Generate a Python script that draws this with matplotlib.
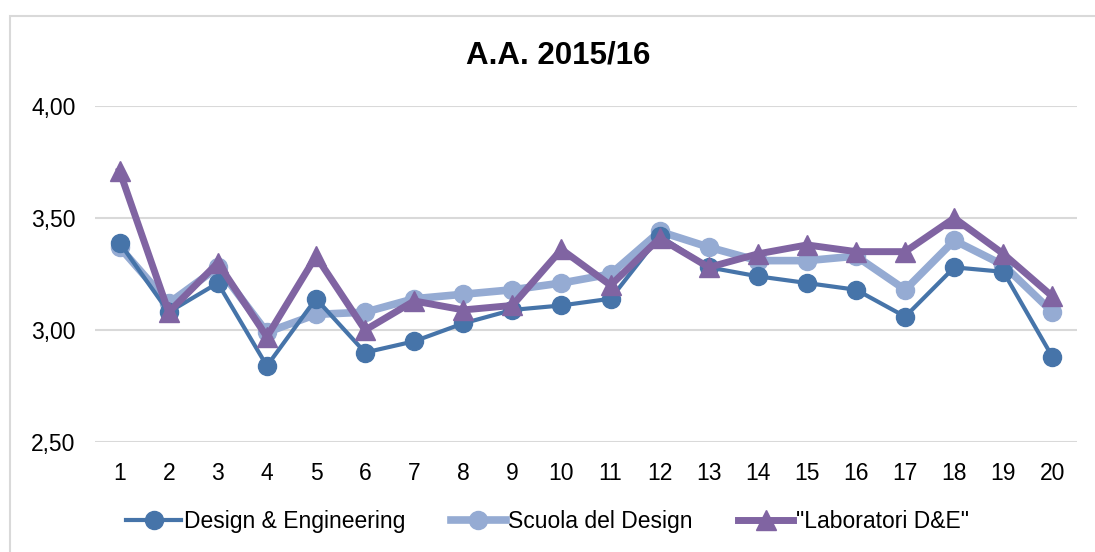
# Line chart of average ratings per question, A.A. 2015/16.
import matplotlib.pyplot as plt
from matplotlib.patches import Rectangle
from matplotlib.ticker import FuncFormatter

plt.rcParams['font.family'] = ['Liberation Sans', 'DejaVu Sans']

# Data.
questions = list(range(1, 21))
design_engineering = [3.39, 3.08, 3.21, 2.84, 3.14, 2.90, 2.95, 3.03, 3.09, 3.11,
                      3.14, 3.42, 3.28, 3.24, 3.21, 3.18, 3.06, 3.28, 3.26, 2.88]
scuola_design = [3.37, 3.12, 3.28, 2.99, 3.07, 3.08, 3.14, 3.16, 3.18, 3.21,
                 3.25, 3.44, 3.37, 3.31, 3.31, 3.33, 3.18, 3.40, 3.29, 3.08]
laboratori = [3.71, 3.08, 3.30, 2.97, 3.33, 3.00, 3.13, 3.09, 3.11, 3.36,
              3.20, 3.41, 3.28, 3.34, 3.38, 3.35, 3.35, 3.50, 3.34, 3.15]
y_ticks = [2.50, 3.00, 3.50, 4.00]

fig = plt.figure(figsize=(10.95, 5.52), dpi=100)
ax = fig.add_axes([0.0868, 0.199, 0.8968, 0.609])

# Outer chart border (cropped on right and bottom like the original).
fig.patches.append(Rectangle((10 / 1095, -0.05), 1.2, 1 - 16 / 552 + 0.05,
                             transform=fig.transFigure, fill=False,
                             edgecolor='#d9d9d9', linewidth=1.5))

ax.plot(questions, design_engineering, color='#4674a9', lw=3, marker='o',
        markersize=13, label='Design & Engineering', zorder=3)
ax.plot(questions, scuola_design, color='#95abd3', lw=5.5, marker='o',
        markersize=13, label='Scuola del Design', zorder=2)
ax.plot(questions, laboratori, color='#8064a2', lw=5, marker='^',
        markersize=14.5, label='"Laboratori D&E"', zorder=4)

ax.set_xlim(0.5, 20.5)
ax.set_ylim(2.5, 4.0)
ax.set_xticks(questions)
ax.set_yticks(y_ticks)
ax.yaxis.set_major_formatter(FuncFormatter(lambda v, p: f'{v:.2f}'.replace('.', ',')))
ax.tick_params(length=0, labelsize=16.5, pad=14)
ax.tick_params(axis='y', pad=14)
ax.grid(axis='y', color='#d9d9d9', lw=1.5)
ax.set_axisbelow(True)
for s in ax.spines.values():
    s.set_visible(False)

fig.text(0.51, 0.9, 'A.A. 2015/16', ha='center', va='center',
         fontsize=22.5, fontweight='bold')

fig.legend(loc='center', bbox_to_anchor=(0.5, 0.055), ncol=3, frameon=False,
           fontsize=16.5, handlelength=2.4, columnspacing=2.0, handletextpad=0.1,
           markerscale=1.0)

fig.savefig('out.png', dpi=100)
